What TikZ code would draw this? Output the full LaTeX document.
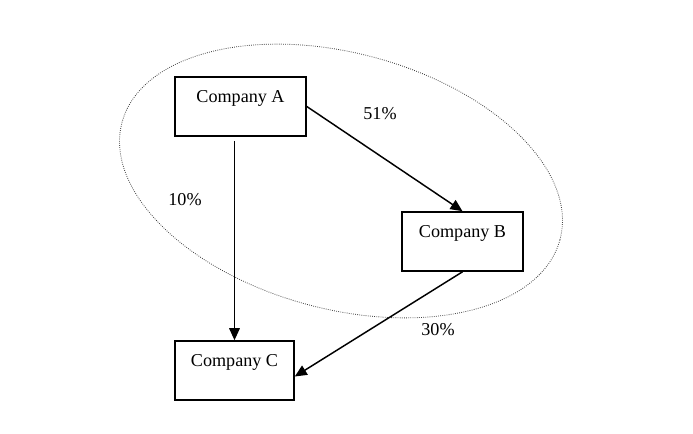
\documentclass[tikz,border=0pt]{standalone}
\usepackage{fontspec}
\setmainfont{Liberation Serif}
\usetikzlibrary{arrows.meta}
\begin{document}
\begin{tikzpicture}[x=0.75pt,y=-0.75pt,
	firm/.style={draw,line width=1.2pt,inner sep=0pt,text height=19.5pt,text depth=24.75pt,font=\fontsize{13.6}{16}\selectfont},
	share/.style={font=\fontsize{13.6}{16}\selectfont},
	own/.style={-{Triangle[length=9pt,width=8pt]},line width=1.1pt}]
		\useasboundingbox (0,0) rectangle (693,434);
		\draw[densely dotted,black!75,line width=0.6pt,rotate around={-15:(341,181)}](341,181) ellipse [x radius=170pt,y radius=96pt];
		\node[firm,minimum width=98.25pt] (A) at (240.5,106.5) {Company A};
		\node[firm,minimum width=90.75pt] (B) at (462.5,241.5) {Company B};
		\node[firm,minimum width=89.25pt] (C) at (234.5,370.5) {Company C};
		\node[share] (p51) at (380,114) {51\%};
		\node[share] (p10) at (185,200) {10\%};
		\node[share] (p30) at (438,330) {30\%};
		\draw[own](A.east)--(B.north);
		\draw[own,line width=0.9pt,shorten <=3pt](C.north |- A.south)--(C.north);
		\draw[own](B.south)--([yshift=-4.5pt]C.east);
		\end{tikzpicture}
\end{document}
